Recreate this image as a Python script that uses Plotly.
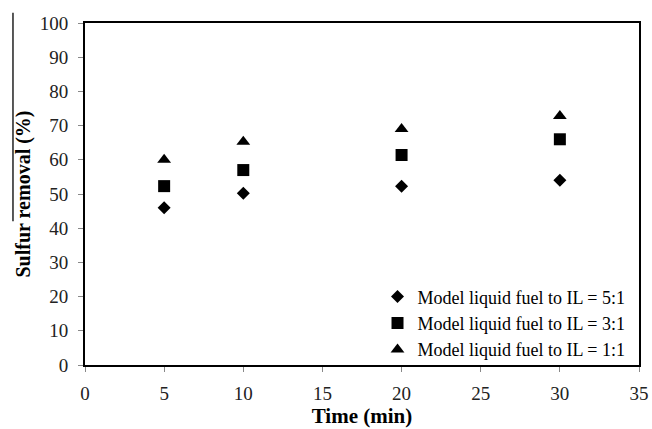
import plotly.graph_objects as go

time_min = [5, 10, 20, 30]
ratio_5_1 = [46.0, 50.2, 52.3, 54.0]
ratio_3_1 = [52.3, 57.0, 61.4, 66.0]
ratio_1_1 = [60.0, 65.3, 69.0, 72.8]
series_names = ["Model liquid fuel to IL = 5:1",
                "Model liquid fuel to IL = 3:1",
                "Model liquid fuel to IL = 1:1"]
x_ticks = [0, 5, 10, 15, 20, 25, 30, 35]
y_ticks = [0, 10, 20, 30, 40, 50, 60, 70, 80, 90, 100]

FONT = "Liberation Serif"

fig = go.Figure()
fig.add_trace(go.Scatter(x=time_min, y=ratio_5_1, mode="markers", name=series_names[0],
                         marker=dict(symbol="diamond", size=10, color="black")))
fig.add_trace(go.Scatter(x=time_min, y=ratio_3_1, mode="markers", name=series_names[1],
                         marker=dict(symbol="square", size=12, color="black")))
fig.add_trace(go.Scatter(x=time_min, y=ratio_1_1, mode="markers", name=series_names[2],
                         marker=dict(symbol="triangle-up", size=12, color="black")))

axis_common = dict(showline=True, linewidth=2, linecolor="black", mirror=True,
                   ticks="outside", ticklen=5, tickwidth=1, tickcolor="#888888",
                   showgrid=False, zeroline=False, automargin=False,
                   tickfont=dict(family=FONT, size=19, color="#222222"))

fig.update_xaxes(range=[0, 35], tickvals=x_ticks, ticklabelstandoff=5,
                 title=dict(text="<b>Time (min)</b>", font=dict(family=FONT, size=21, color="black"), standoff=3),
                 **axis_common)
fig.update_yaxes(range=[0, 100], tickvals=y_ticks, ticklabelstandoff=6,
                 title=dict(text="<b>Sulfur removal (%)</b>", font=dict(family=FONT, size=20, color="black"), standoff=4),
                 **axis_common)

fig.add_shape(type="line", xref="paper", yref="paper", x0=-0.13, x1=-0.13, y0=1.03, y1=0.42,
              line=dict(color="#222222", width=1.5))

fig.update_layout(
    width=652, height=429,
    margin=dict(l=85, r=13, t=23, b=64, autoexpand=False),
    paper_bgcolor="white", plot_bgcolor="white",
    showlegend=True,
    legend=dict(x=0.528, y=-0.01, xanchor="left", yanchor="bottom",
                bgcolor="rgba(0,0,0,0)", borderwidth=0, itemwidth=30,
                tracegroupgap=0,
                font=dict(family=FONT, size=18, color="black")),
)

fig.write_html("out.html")
